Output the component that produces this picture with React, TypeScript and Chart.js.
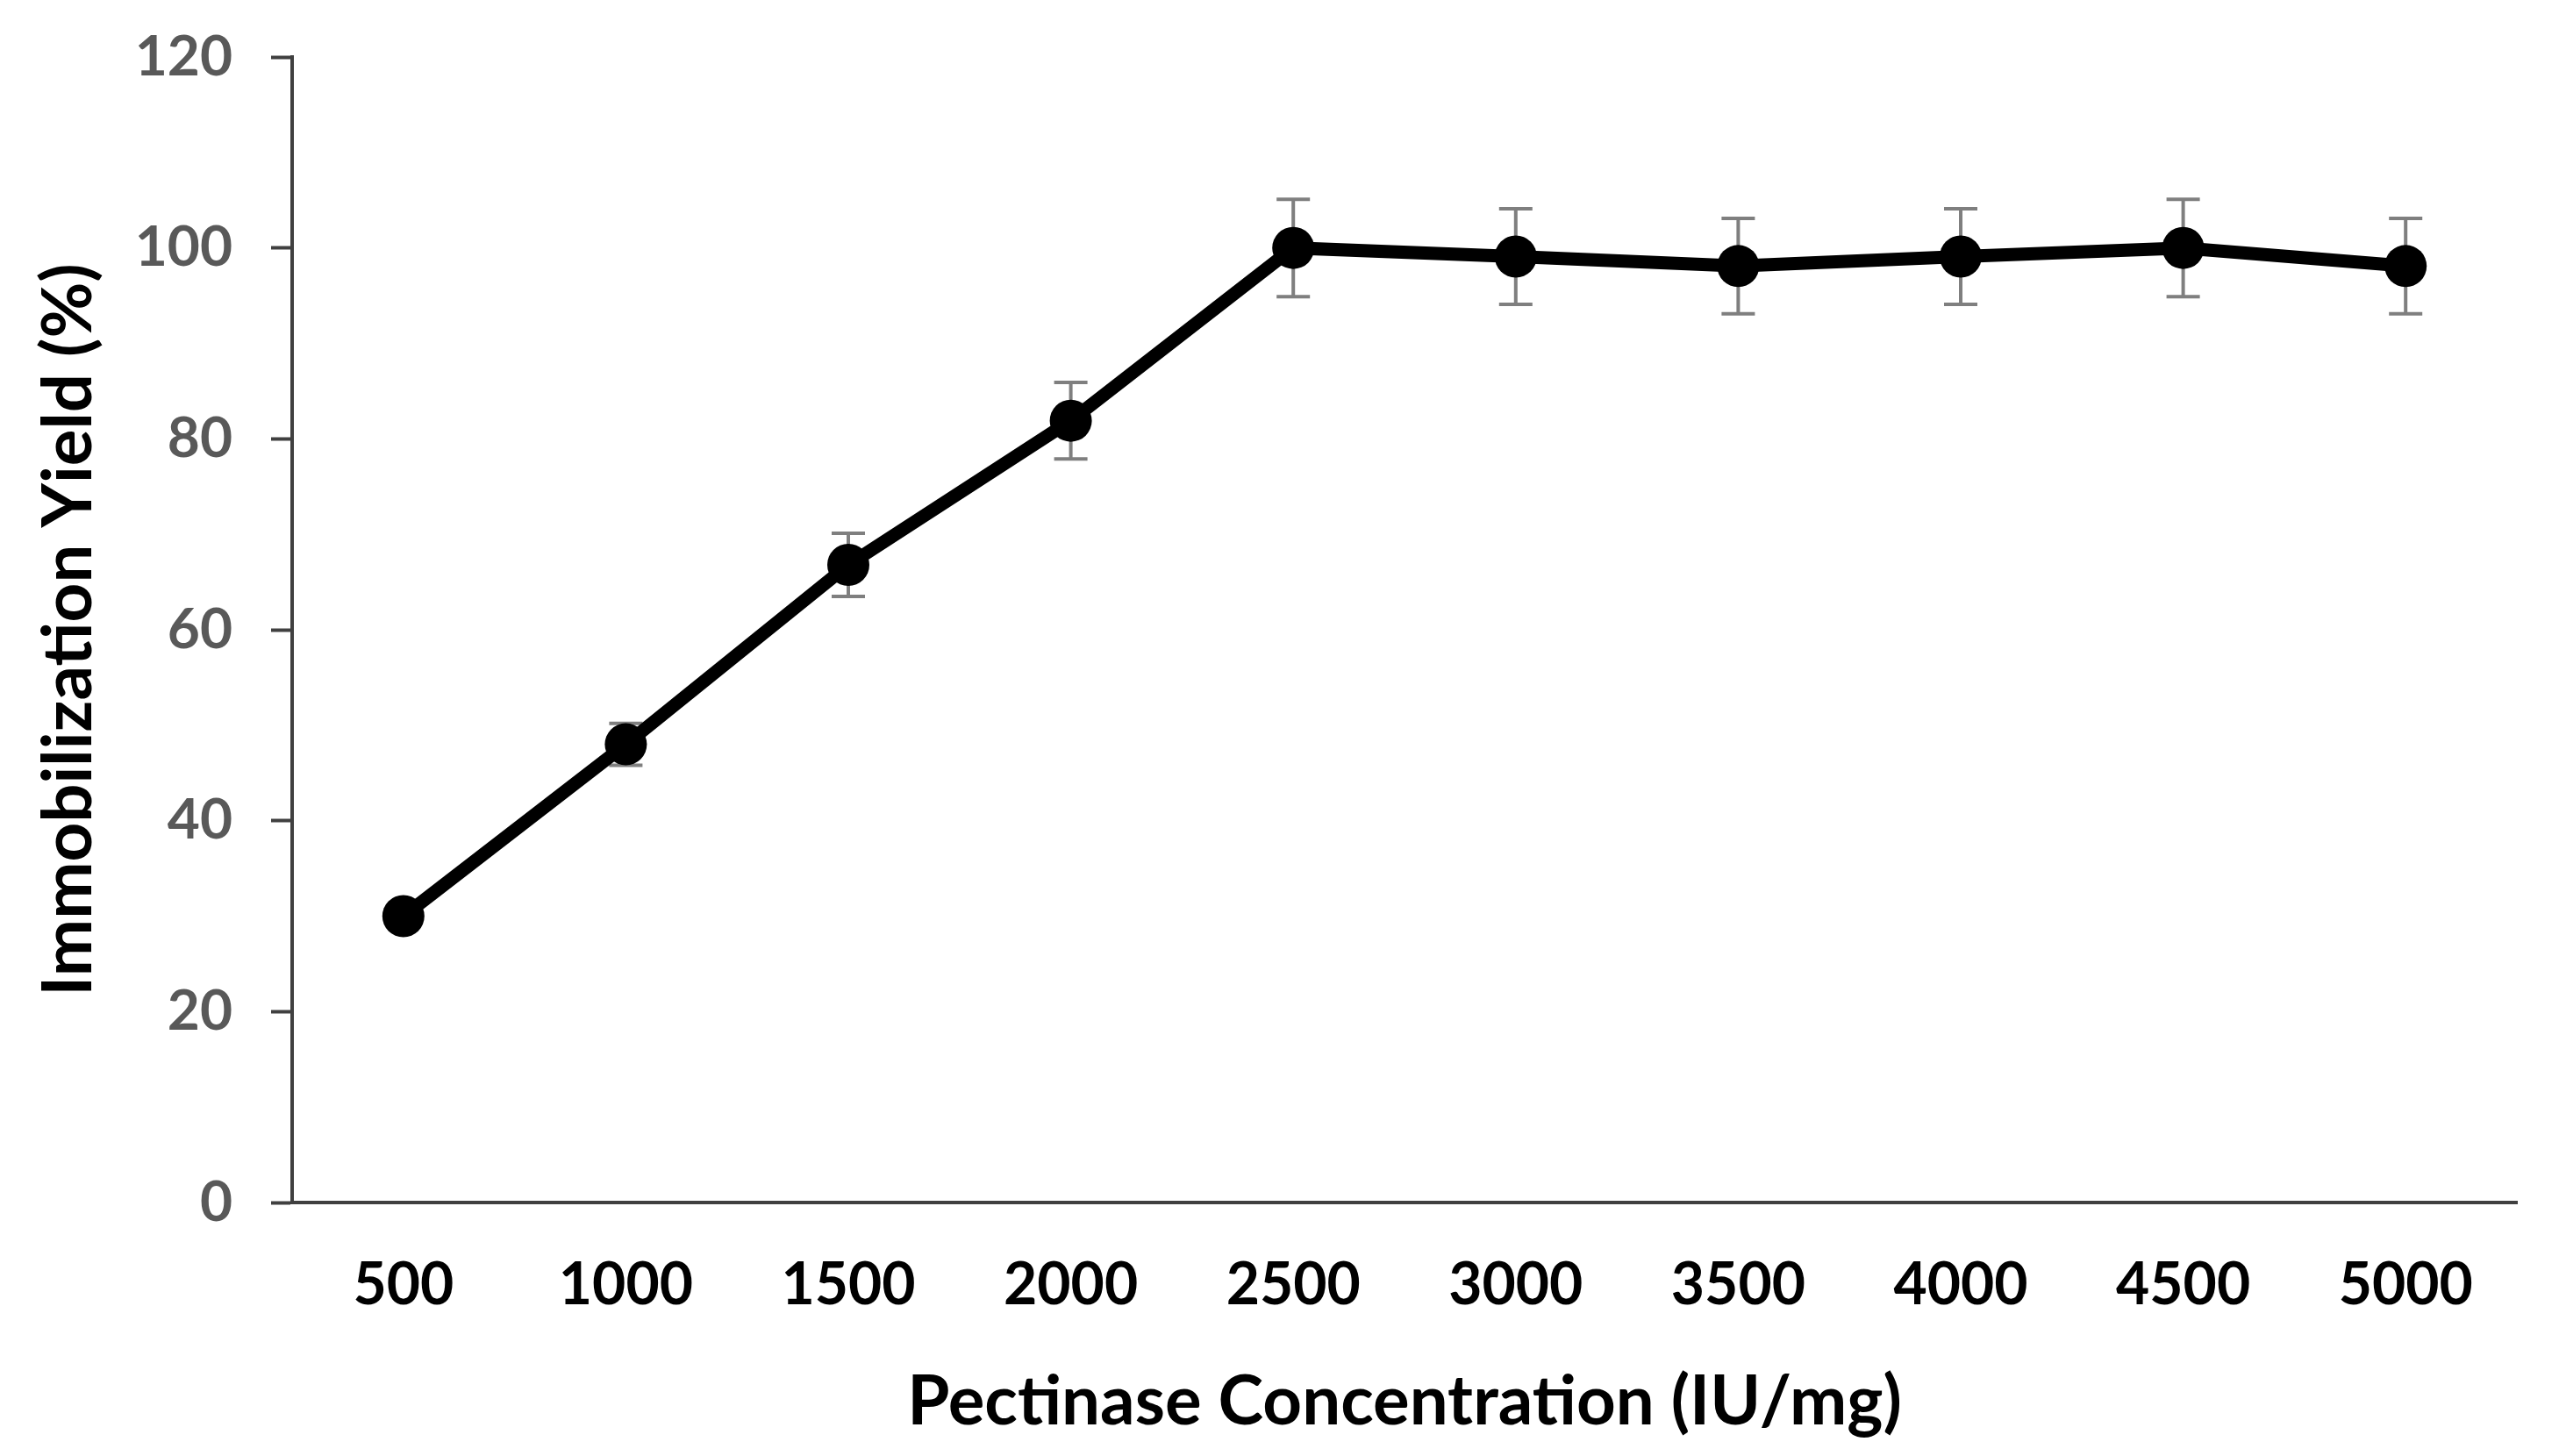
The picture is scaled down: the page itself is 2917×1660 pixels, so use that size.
import React, { useEffect, useRef } from "react";
import { Chart, registerables } from "chart.js";

Chart.register(...registerables);

const categories = ["500", "1000", "1500", "2000", "2500", "3000", "3500", "4000", "4500", "5000"];
const yieldValues = [30, 48, 66.8, 81.9, 100, 99.1, 98.1, 99.1, 100, 98.1];
const yieldErrors = [0.8, 2.2, 3.3, 4.0, 5.1, 5.0, 5.0, 5.0, 5.1, 5.0];
const yTicks = [0, 20, 40, 60, 80, 100, 120];

const W = 2917;
const H = 1660;
const FONT = "Lato, 'Open Sans', sans-serif";

const errorBarPlugin = {
  id: "errorBars",
  beforeDatasetsDraw(chart: any) {
    const { ctx, scales } = chart;
    const x = scales.x;
    const y = scales.y;
    ctx.save();
    ctx.strokeStyle = "#7f7f7f";
    ctx.lineWidth = 4;
    const cap = 19;
    yieldValues.forEach((v, i) => {
      const e = yieldErrors[i];
      const px = x.getPixelForValue(i);
      const top = y.getPixelForValue(v + e);
      const bot = y.getPixelForValue(v - e);
      ctx.beginPath();
      ctx.moveTo(px, top);
      ctx.lineTo(px, bot);
      ctx.moveTo(px - cap, top);
      ctx.lineTo(px + cap, top);
      ctx.moveTo(px - cap, bot);
      ctx.lineTo(px + cap, bot);
      ctx.stroke();
    });
    ctx.restore();
  },
};

export default function App() {
  const ref = useRef<HTMLCanvasElement | null>(null);
  useEffect(() => {
    if (!ref.current) return;
    const chart = new Chart(ref.current, {
      type: "line",
      data: {
        labels: categories,
        datasets: [
          {
            label: "Immobilization Yield",
            data: yieldValues,
            borderColor: "#000000",
            backgroundColor: "#000000",
            borderWidth: 15,
            pointRadius: 24,
            pointBackgroundColor: "#000000",
            pointBorderColor: "#000000",
            pointBorderWidth: 0,
            tension: 0,
          },
        ],
      },
      options: {
        animation: false,
        responsive: false,
        devicePixelRatio: 1,
        layout: { padding: { left: 0, top: 65, right: 48, bottom: 0 } },
        plugins: {
          legend: { display: false },
          tooltip: { enabled: false },
        },
        scales: {
          x: {
            type: "category",
            offset: true,
            grid: { display: true, drawOnChartArea: false, drawTicks: false },
            border: { display: true, color: "#404040", width: 4 },
            ticks: {
              color: "#000000",
              padding: 55,
              font: { family: FONT, size: 66, weight: "bold" },
              maxRotation: 0,
            },
            title: {
              display: true,
              text: "Pectinase Concentration (IU/mg)",
              color: "#000000",
              font: { family: FONT, size: 78, weight: "bold" },
              padding: { top: 0, bottom: 14 },
            },
            afterFit(scale: any) {
              scale.height = 289;
              scale.paddingLeft = 0;
              scale.paddingRight = 0;
            },
          },
          y: {
            min: 0,
            max: 120,
            afterBuildTicks(scale: any) {
              scale.ticks = yTicks.map((v) => ({ value: v }));
            },
            grid: {
              display: true,
              drawOnChartArea: false,
              drawTicks: true,
              tickLength: 24,
              tickWidth: 4,
              tickColor: "#404040",
            },
            border: { display: true, color: "#404040", width: 4 },
            ticks: {
              color: "#595959",
              padding: 44,
              font: { family: FONT, size: 64, weight: "bold" },
            },
            title: {
              display: true,
              text: "Immobilization Yield (%)",
              color: "#000000",
              font: { family: FONT, size: 78, weight: "bold" },
              padding: { top: 32, bottom: 0 },
            },
            afterFit(scale: any) {
              scale.width = 333;
              scale.paddingTop = 0;
              scale.paddingBottom = 0;
            },
          },
        },
      },
      plugins: [errorBarPlugin],
    } as any);
    return () => chart.destroy();
  }, []);
  return (
    <div style={{ position: "fixed", left: 0, top: 0, width: W, height: H, background: "#ffffff" }}>
      <canvas ref={ref} width={W} height={H} style={{ display: "block", width: W, height: H }} />
    </div>
  );
}
